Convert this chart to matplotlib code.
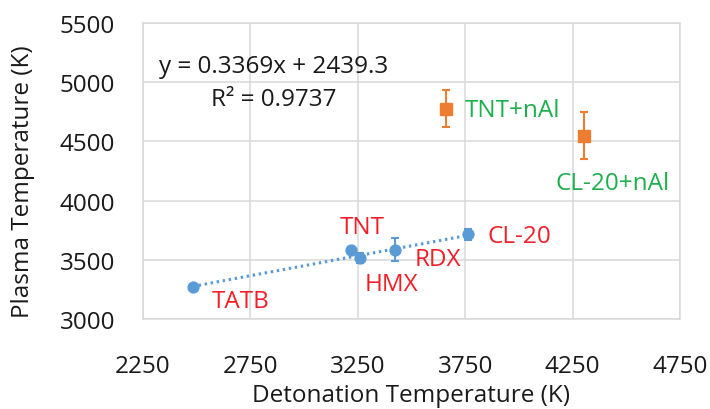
import numpy as np
import matplotlib
matplotlib.use("Agg")
import matplotlib.pyplot as plt

plt.rcParams['font.family'] = ['Open Sans', 'DejaVu Sans']

# pure explosives
pure_names = ['TATB', 'TNT', 'HMX', 'RDX', 'CL-20']
pure_det = [2481, 3219, 3258, 3425, 3765]
pure_plasma = [3270, 3580, 3515, 3586, 3716]
pure_err = [12, 30, 40, 100, 45]

# aluminized explosives
al_names = ['TNT+nAl', 'CL-20+nAl']
al_det = [3660, 4305]
al_plasma = [4777, 4549]
al_err = [155, 200]

# linear trend fitted to the pure explosives
slope = 0.3369
intercept = 2439.3
r_squared = 0.9737

# label offsets in pixels (dx, dy, ha)
pure_offsets = [(19, -14, 'left'), (-11, 23, 'left'), (5, -26, 'left'),
                (19, -9, 'left'), (19, -2, 'left')]
al_offsets = [(19, -1, 'left'), (-29, -47, 'left')]

blue = '#5B9BD5'
orange = '#ED7D31'
red = '#F0202A'
green = '#1DAF4E'
grid = '#D9D9D9'
ink = '#1a1a1a'
fs = 17.5

fig = plt.figure(figsize=(7.1, 4.1), dpi=100)
ax = fig.add_axes([143 / 710, 90 / 410, 537 / 710, 296 / 410])

ax.set_xlim(2250, 4750)
ax.set_ylim(3000, 5500)
ax.set_xticks(np.arange(2250, 4751, 500))
ax.set_yticks(np.arange(3000, 5501, 500))
ax.grid(True, color=grid, linewidth=1.1, zorder=0)
ax.set_axisbelow(True)
for s in ax.spines.values():
    s.set_color(grid)
    s.set_linewidth(1.1)
ax.tick_params(length=0, labelsize=fs, colors=ink)
ax.tick_params(axis='y', pad=20)
ax.tick_params(axis='x', pad=25)

# trendline
tx = np.array([min(pure_det), max(pure_det)])
ax.plot(tx, slope * tx + intercept, linestyle=(0, (0.8, 1.2)), color=blue,
        linewidth=2.2, zorder=2)

ax.errorbar(pure_det, pure_plasma, yerr=pure_err, fmt='o', color=blue,
            markersize=7.8, capsize=3, elinewidth=1.5, capthick=1.5, zorder=3)
ax.errorbar(al_det, al_plasma, yerr=al_err, fmt='s', color=orange,
            markersize=8, capsize=3, elinewidth=1.5, capthick=1.5, zorder=3)

for name, x, y, (dx, dy, ha) in zip(pure_names, pure_det, pure_plasma, pure_offsets):
    ax.annotate(name, (x, y), xytext=(dx, dy), textcoords='offset pixels',
                ha=ha, va='center', color=red, fontsize=fs)
for name, x, y, (dx, dy, ha) in zip(al_names, al_det, al_plasma, al_offsets):
    ax.annotate(name, (x, y), xytext=(dx, dy), textcoords='offset pixels',
                ha=ha, va='center', color=green, fontsize=fs)

# trendline equation
ax.text(0.244, (320 - 67) / 296, f'y = {slope}x + {intercept}', transform=ax.transAxes,
        ha='center', va='center', fontsize=fs, color=ink)
ax.text(0.244, (320 - 100) / 296, f'R² = {r_squared}', transform=ax.transAxes,
        ha='center', va='center', fontsize=fs, color=ink)

fig.text(23 / 710, 1 - 182 / 410, 'Plasma Temperature (K)', rotation=90,
         ha='center', va='center', fontsize=fs, color=ink)
fig.text(411 / 710, 1 - 396 / 410, 'Detonation Temperature (K)',
         ha='center', va='center', fontsize=fs, color=ink)

fig.savefig('out.png', dpi=100)
